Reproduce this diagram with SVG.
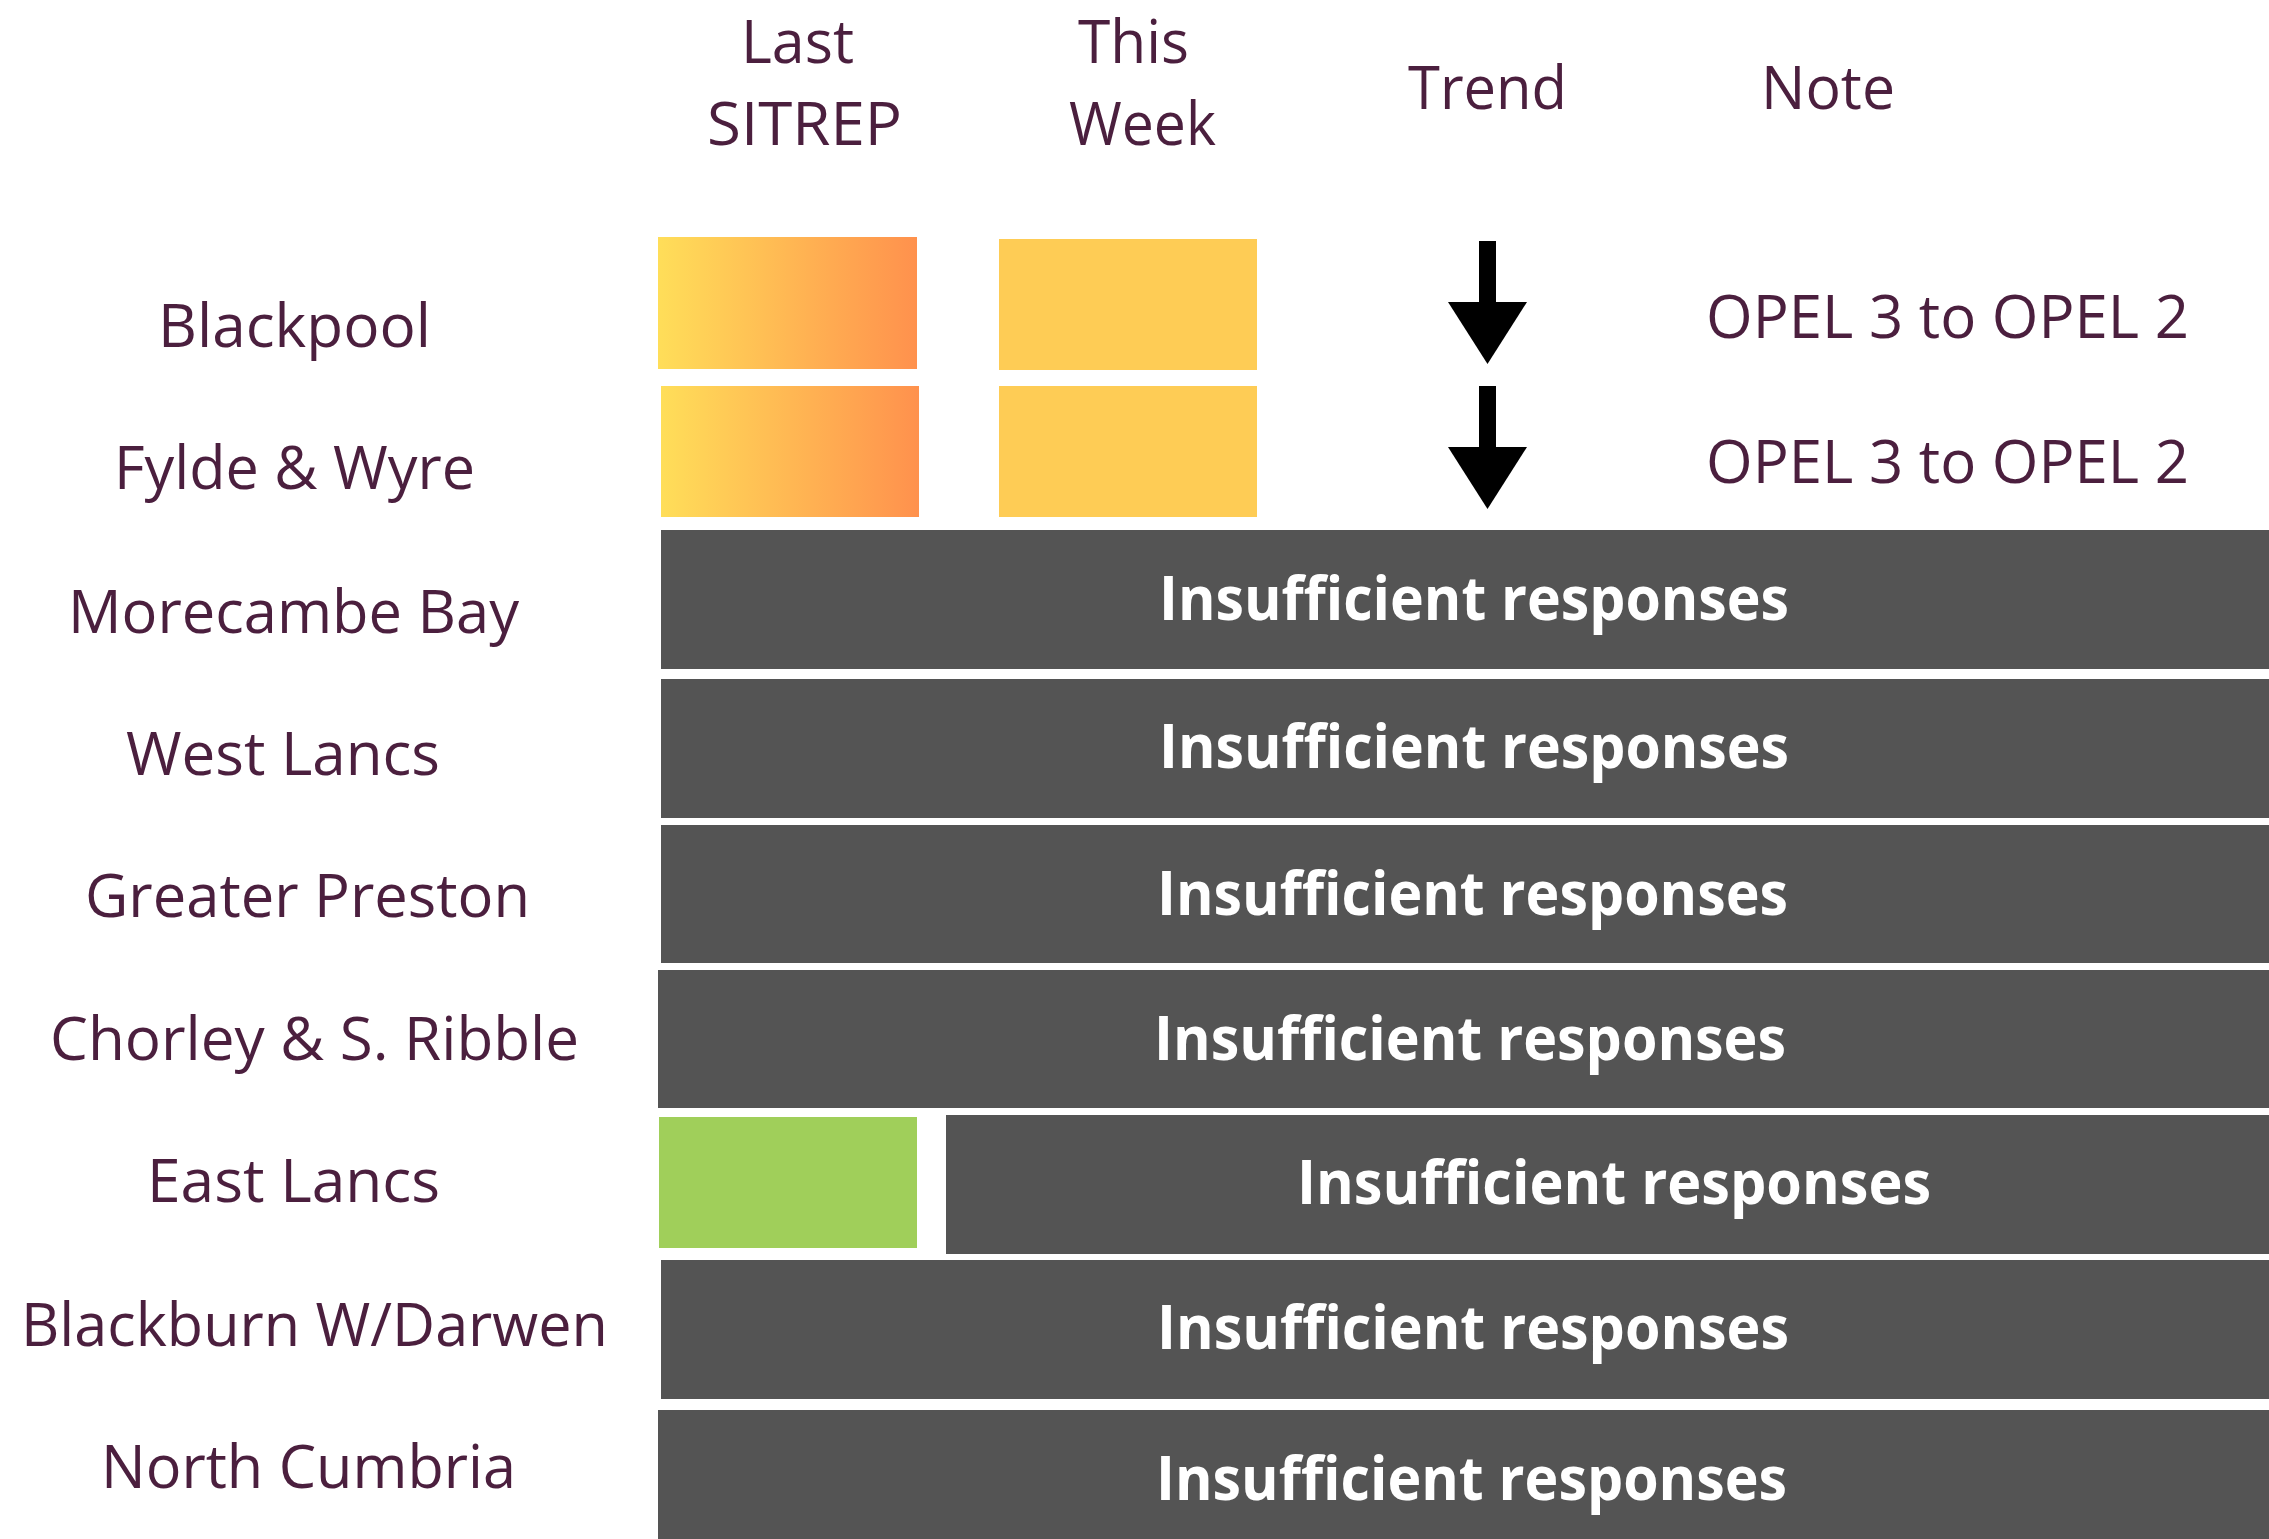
<svg xmlns="http://www.w3.org/2000/svg" width="2269" height="1539" viewBox="0 0 2269 1539">
<defs>
<linearGradient id="opel3" x1="0" y1="0" x2="1" y2="0">
<stop offset="0" stop-color="#FFDE59"/>
<stop offset="1" stop-color="#FF914D"/>
</linearGradient>
<style>
.lbl{font-family:"Open Sans","Liberation Sans",sans-serif;font-size:60px;fill:#4B1F3E}
.ins{font-family:"Open Sans","Liberation Sans",sans-serif;font-size:60px;font-weight:bold;fill:#FFFFFF}
.dark{fill:#545454}
.this{fill:#FECC55}
.last{fill:url(#opel3)}
.green{fill:#A0CF5A}
.arrow{fill:#000000}
</style>
</defs>
<rect x="0" y="0" width="2269" height="1539" fill="#FFFFFF"/>
<g id="header">
<text class="lbl" x="741" y="63" textLength="113" lengthAdjust="spacingAndGlyphs">Last</text>
<text class="lbl" x="707" y="145" textLength="195" lengthAdjust="spacingAndGlyphs">SITREP</text>
<text class="lbl" x="1078" y="63" textLength="111" lengthAdjust="spacingAndGlyphs">This</text>
<text class="lbl" x="1069" y="145" textLength="147" lengthAdjust="spacingAndGlyphs">Week</text>
<text class="lbl" x="1408" y="109" textLength="159" lengthAdjust="spacingAndGlyphs">Trend</text>
<text class="lbl" x="1761" y="109" textLength="134" lengthAdjust="spacingAndGlyphs">Note</text>
</g>
<g id="row-blackpool">
<text class="lbl" x="158" y="347" textLength="273" lengthAdjust="spacingAndGlyphs">Blackpool</text>
<rect class="last" x="658" y="237" width="259" height="132"/>
<rect class="this" x="999" y="239" width="258" height="131"/>
<rect class="arrow" x="1479" y="241" width="17" height="62"/>
<polygon class="arrow" points="1448,302 1527,302 1487.5,364"/>
<text class="lbl" x="1706" y="338" textLength="483" lengthAdjust="spacingAndGlyphs">OPEL 3 to OPEL 2</text>
</g>
<g id="row-fylde-wyre">
<text class="lbl" x="114" y="489" textLength="361" lengthAdjust="spacingAndGlyphs">Fylde &amp; Wyre</text>
<rect class="last" x="661" y="386" width="258" height="131"/>
<rect class="this" x="999" y="386" width="258" height="131"/>
<rect class="arrow" x="1479" y="386" width="17" height="62"/>
<polygon class="arrow" points="1448,447 1527,447 1487.5,509"/>
<text class="lbl" x="1706" y="483" textLength="483" lengthAdjust="spacingAndGlyphs">OPEL 3 to OPEL 2</text>
</g>
<g id="row-morecambe-bay">
<text class="lbl" x="68" y="633" textLength="451" lengthAdjust="spacingAndGlyphs">Morecambe Bay</text>
<rect class="dark" x="661" y="530" width="1608" height="139"/>
<text class="ins" x="1159" y="620" textLength="630" lengthAdjust="spacingAndGlyphs">Insufficient responses</text>
</g>
<g id="row-west-lancs">
<text class="lbl" x="126" y="775" textLength="314" lengthAdjust="spacingAndGlyphs">West Lancs</text>
<rect class="dark" x="661" y="679" width="1608" height="139"/>
<text class="ins" x="1159" y="768" textLength="630" lengthAdjust="spacingAndGlyphs">Insufficient responses</text>
</g>
<g id="row-greater-preston">
<text class="lbl" x="85" y="917" textLength="445" lengthAdjust="spacingAndGlyphs">Greater Preston</text>
<rect class="dark" x="661" y="825" width="1608" height="138"/>
<text class="ins" x="1157" y="915" textLength="631" lengthAdjust="spacingAndGlyphs">Insufficient responses</text>
</g>
<g id="row-chorley">
<text class="lbl" x="50" y="1060" textLength="529" lengthAdjust="spacingAndGlyphs">Chorley &amp; S. Ribble</text>
<rect class="dark" x="658" y="970" width="1611" height="138"/>
<text class="ins" x="1154" y="1060" textLength="632" lengthAdjust="spacingAndGlyphs">Insufficient responses</text>
</g>
<g id="row-east-lancs">
<text class="lbl" x="147" y="1202" textLength="293" lengthAdjust="spacingAndGlyphs">East Lancs</text>
<rect class="green" x="659" y="1117" width="258" height="131"/>
<rect class="dark" x="946" y="1115" width="1323" height="139"/>
<text class="ins" x="1297" y="1204" textLength="634" lengthAdjust="spacingAndGlyphs">Insufficient responses</text>
</g>
<g id="row-blackburn">
<text class="lbl" x="21" y="1346" textLength="587" lengthAdjust="spacingAndGlyphs">Blackburn W/Darwen</text>
<rect class="dark" x="661" y="1260" width="1608" height="139"/>
<text class="ins" x="1157" y="1349" textLength="632" lengthAdjust="spacingAndGlyphs">Insufficient responses</text>
</g>
<g id="row-north-cumbria">
<text class="lbl" x="101" y="1488" textLength="415" lengthAdjust="spacingAndGlyphs">North Cumbria</text>
<rect class="dark" x="658" y="1410" width="1611" height="129"/>
<text class="ins" x="1156" y="1500" textLength="631" lengthAdjust="spacingAndGlyphs">Insufficient responses</text>
</g>
<g id="connectors"></g>
</svg>
